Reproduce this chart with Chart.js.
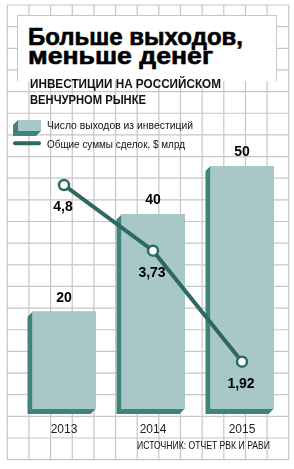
<!DOCTYPE html>
<html lang="ru">
<head>
<meta charset="utf-8">
<title>Больше выходов, меньше денег</title>
<script src="https://cdn.jsdelivr.net/npm/chart.js@4"></script>
<style>
  html, body { margin: 0; padding: 0; background: #fff; }
  #wrap { position: relative; width: 294px; height: 469px; overflow: hidden; }
  #wrap canvas { position: absolute; left: 0; top: 0; }
  .txt { position: absolute; white-space: nowrap; line-height: 1; transform-origin: 0 0; color: #111; }
  #titlebox { position: absolute; left: 16.5px; top: 15px; width: 260px; height: 66px;
    background: #fff; border: 1px solid #c6c6c6; border-bottom: none; box-sizing: border-box; }
  .title { font-family: "Liberation Sans", Arial, sans-serif; font-weight: bold; font-size: 24px;
    color: #000; -webkit-text-stroke: 0.6px #000; }
  .sub { font-family: "Liberation Sans Narrow", "Liberation Sans", sans-serif; font-weight: bold; font-size: 13px; color: #111; }
  .leg { font-family: "Liberation Sans Narrow", "Liberation Sans", sans-serif; font-size: 11px; color: #111; }
  .src { font-family: "Liberation Sans Narrow", "Liberation Sans", sans-serif; font-size: 11.5px; color: #111; }
  #icons { position: absolute; left: 12px; top: 118px; }
</style>
</head>
<body>
<div id="wrap">
  <canvas id="chart" width="294" height="469"></canvas>
  <div id="titlebox"></div>
  <div class="txt title" data-w="215" style="left:28px; top:24.7px">Больше выходов,</div>
  <div class="txt title" data-w="185" style="left:28px; top:43.7px">меньше денег</div>
  <div class="txt sub" data-w="191" style="left:30px; top:77.3px">ИНВЕСТИЦИИ НА РОССИЙСКОМ</div>
  <div class="txt sub" data-w="116" style="left:30px; top:93px">ВЕНЧУРНОМ РЫНКЕ</div>
  <svg id="icons" width="32" height="30">
    <polygon points="6,2 1,7 1,18 24,18 29,13 29,2" fill="#3e847a"/>
    <rect x="6" y="2" width="23" height="11" fill="#a7c8c6"/>
    <line x1="3" y1="25.3" x2="27" y2="25.3" stroke="#2d6862" stroke-width="4" stroke-linecap="round"/>
  </svg>
  <div class="txt leg" data-w="146" style="left:47px; top:120px">Число выходов из инвестиций</div>
  <div class="txt leg" data-w="138" style="left:47px; top:139px">Общие суммы сделок, $ млрд</div>
  <div class="txt src" data-w="133" style="left:136.7px; top:440.3px">ИСТОЧНИК: ОТЧЕТ РВК И РАВИ</div>
</div>
<script>
// data
const years = ['2013', '2014', '2015'];
const exits = [20, 40, 50];          // число выходов
const dealSums = [4.8, 3.73, 1.92];  // $ млрд

const FACE = '#a7c8c6';
const SIDE = '#3e847a';
const LINE = '#2d6862';

// squeeze html text to the widths in the picture
document.querySelectorAll('.txt').forEach(el => {
  const w = parseFloat(el.dataset.w);
  const r = el.getBoundingClientRect().width;
  el.style.transform = 'scaleX(' + (w / r) + ')';
});

// grey squared paper behind everything
const paper = {
  id: 'paper',
  beforeDraw(chart) {
    const ctx = chart.ctx;
    const x0 = 7.3, y0 = 5, step = 21.65, cols = 13, rows = 21;
    ctx.save();
    ctx.fillStyle = '#fff';
    ctx.fillRect(0, 0, chart.width, chart.height);
    ctx.strokeStyle = '#c6c6c6';
    ctx.lineWidth = 1.2;
    ctx.beginPath();
    for (let i = 0; i <= cols; i++) {
      ctx.moveTo(x0 + i * step, y0);
      ctx.lineTo(x0 + i * step, y0 + rows * step);
    }
    for (let j = 0; j <= rows; j++) {
      ctx.moveTo(x0, y0 + j * step);
      ctx.lineTo(x0 + cols * step, y0 + j * step);
    }
    ctx.stroke();
    ctx.restore();
  }
};

// dark extruded side of the bars
const barSides = {
  id: 'barSides',
  beforeDatasetsDraw(chart) {
    const ctx = chart.ctx;
    const D = 5;
    ctx.save();
    ctx.fillStyle = SIDE;
    chart.getDatasetMeta(1).data.forEach(bar => {
      const { x, y, base, width } = bar.getProps(['x', 'y', 'base', 'width'], true);
      const l = x - width / 2, r = x + width / 2;
      ctx.beginPath();
      ctx.moveTo(l, y);
      ctx.lineTo(l - D, y + D);
      ctx.lineTo(l - D, base + D);
      ctx.lineTo(r - D, base + D);
      ctx.lineTo(r, base);
      ctx.lineTo(r, y);
      ctx.closePath();
      ctx.fill();
    });
    ctx.restore();
  }
};

// value labels
const valueLabels = {
  id: 'valueLabels',
  afterDatasetsDraw(chart) {
    const ctx = chart.ctx;
    ctx.save();
    ctx.fillStyle = '#000';
    ctx.font = 'bold 14px "Liberation Sans", Arial, sans-serif';
    ctx.textAlign = 'center';
    ctx.textBaseline = 'middle';
    chart.getDatasetMeta(1).data.forEach((bar, i) => {
      ctx.fillText(String(exits[i]), bar.x, bar.y - 14);
    });
    chart.getDatasetMeta(0).data.forEach((pt, i) => {
      ctx.fillText(String(dealSums[i]).replace('.', ','), pt.x - 1, pt.y + 22);
    });
    ctx.restore();
  }
};

new Chart(document.getElementById('chart'), {
  data: {
    labels: years,
    datasets: [
      {
        type: 'line',
        data: dealSums,
        yAxisID: 'ySum',
        order: 0,
        borderColor: LINE,
        borderWidth: 4,
        tension: 0,
        pointRadius: 5,
        pointBorderWidth: 2.5,
        pointBackgroundColor: '#fff',
        pointBorderColor: LINE,
        clip: false
      },
      {
        type: 'bar',
        data: exits,
        yAxisID: 'yExits',
        order: 1,
        backgroundColor: FACE,
        borderWidth: 0,
        barThickness: 63
      }
    ]
  },
  options: {
    responsive: false,
    animation: false,
    layout: { padding: { top: 166, left: 19.5, right: 7.5, bottom: 30 } },
    plugins: { legend: { display: false }, tooltip: { enabled: false } },
    scales: {
      x: {
        offset: true,
        grid: { display: false, drawTicks: false },
        border: { display: false },
        ticks: { color: '#222', padding: 13, font: { family: '"Liberation Sans Narrow", "Liberation Sans", sans-serif', size: 12 } },
        afterFit: s => { s.height = 30; }
      },
      yExits: { display: false, min: 0, max: 50 },
      ySum: { display: false, min: 1.149, max: 5.11 }
    }
  },
  plugins: [paper, barSides, valueLabels]
});
</script>
</body>
</html>
